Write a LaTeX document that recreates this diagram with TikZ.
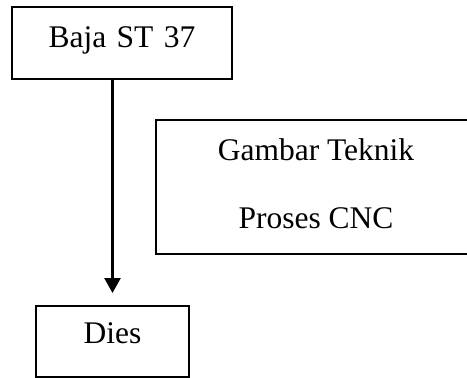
\documentclass[tikz,border=0pt]{standalone}
\usepackage{fontspec}
\setmainfont{Liberation Serif}
\usetikzlibrary{arrows.meta}
\begin{document}
\begin{tikzpicture}[x=1pt,y=-1pt,
  boxnode/.style={draw, line width=2.4pt, inner sep=0pt, outer sep=0pt,
    font=\fontsize{31.5}{37}\selectfont, align=center},
  txtnode/.style={inner sep=0pt, font=\fontsize{31.5}{37}\selectfont, anchor=base},
  arrowline/.style={line width=2.6pt, -{Triangle[width=16pt,length=15pt]}}]
\useasboundingbox (0,0) rectangle (467,378);
\clip (0,0) rectangle (467,378);
% Baja ST 37
\node[boxnode, anchor=base, text width=220pt, text height=40pt, text depth=32pt] (baja) at (122,47) {Baja ST 37};
% Dies
\node[boxnode, anchor=base, text width=153pt, text height=37pt, text depth=34pt] (dies) at (112.5,343) {Dies};
% Gambar Teknik / Proses CNC
\node[boxnode, minimum width=320pt, minimum height=134pt] (gt) at (316,187) {};
\node[txtnode] (gtA) at (316,160) {Gambar Teknik};
\node[txtnode] (gtB) at (316,228) {Proses CNC};
% arrow
\draw[arrowline, shorten >=13pt] (baja.south -| dies.north) -- (dies.north);
\end{tikzpicture}
\end{document}
